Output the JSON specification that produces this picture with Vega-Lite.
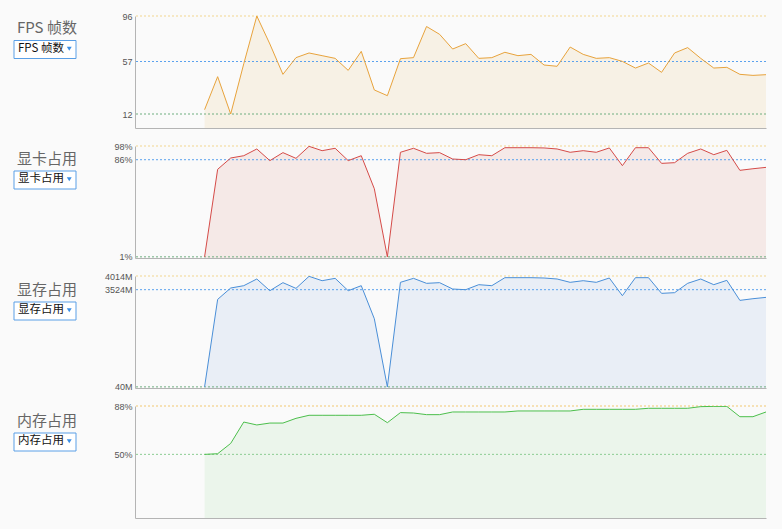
{
  "$schema": "https://vega.github.io/schema/vega-lite/v6.json",
  "background": "#fafafa",
  "padding": {"left": 13, "top": 12, "right": 16, "bottom": 11},
  "bounds": "flush",
  "spacing": 18,
  "resolve": {"scale": {"color": "independent", "stroke": "independent", "x": "independent", "y": "independent"}, "legend": {"color": "independent"}},
  "datasets": {
    "series": [
      {"i": 0, "fps": 15.7, "gpu": 1, "vram": 40, "ram": 50},
      {"i": 1, "fps": 44, "gpu": 77.6, "vram": 3176, "ram": 50.5},
      {"i": 2, "fps": 12, "gpu": 87.5, "vram": 3583, "ram": 58.6},
      {"i": 3, "fps": 55, "gpu": 89.5, "vram": 3667, "ram": 75.4},
      {"i": 4, "fps": 96, "gpu": 95.4, "vram": 3906, "ram": 73.1},
      {"i": 5, "fps": 72, "gpu": 85.2, "vram": 3487, "ram": 74.6},
      {"i": 6, "fps": 46, "gpu": 92.2, "vram": 3775, "ram": 74.6},
      {"i": 7, "fps": 60.3, "gpu": 87.2, "vram": 3571, "ram": 78.3},
      {"i": 8, "fps": 64.3, "gpu": 97.7, "vram": 4002, "ram": 80.7},
      {"i": 9, "fps": 62, "gpu": 93.9, "vram": 3846, "ram": 80.7},
      {"i": 10, "fps": 59.7, "gpu": 96, "vram": 3930, "ram": 80.7},
      {"i": 11, "fps": 49.4, "gpu": 85.2, "vram": 3487, "ram": 80.7},
      {"i": 12, "fps": 65.7, "gpu": 89.5, "vram": 3667, "ram": 80.7},
      {"i": 13, "fps": 32.6, "gpu": 60.6, "vram": 2482, "ram": 81.5},
      {"i": 14, "fps": 27.7, "gpu": 1, "vram": 40, "ram": 74.9},
      {"i": 15, "fps": 59.4, "gpu": 92.5, "vram": 3787, "ram": 82.8},
      {"i": 16, "fps": 60.3, "gpu": 96, "vram": 3930, "ram": 82.5},
      {"i": 17, "fps": 87, "gpu": 91.6, "vram": 3751, "ram": 81.2},
      {"i": 18, "fps": 80.3, "gpu": 92.2, "vram": 3775, "ram": 81.2},
      {"i": 19, "fps": 67.7, "gpu": 86.6, "vram": 3547, "ram": 83.3},
      {"i": 20, "fps": 72.3, "gpu": 86, "vram": 3523, "ram": 83.3},
      {"i": 21, "fps": 59.7, "gpu": 90.4, "vram": 3703, "ram": 83.3},
      {"i": 22, "fps": 60.3, "gpu": 89.5, "vram": 3667, "ram": 83.3},
      {"i": 23, "fps": 64.9, "gpu": 96.5, "vram": 3954, "ram": 83.3},
      {"i": 24, "fps": 62, "gpu": 96.5, "vram": 3954, "ram": 84.1},
      {"i": 25, "fps": 63.1, "gpu": 96.5, "vram": 3954, "ram": 84.1},
      {"i": 26, "fps": 54, "gpu": 96.3, "vram": 3942, "ram": 84.1},
      {"i": 27, "fps": 52.9, "gpu": 95.4, "vram": 3906, "ram": 84.1},
      {"i": 28, "fps": 69.4, "gpu": 92.5, "vram": 3787, "ram": 84.1},
      {"i": 29, "fps": 63.1, "gpu": 93.9, "vram": 3846, "ram": 85.4},
      {"i": 30, "fps": 59.7, "gpu": 92.5, "vram": 3787, "ram": 85.4},
      {"i": 31, "fps": 60.3, "gpu": 96.3, "vram": 3942, "ram": 85.4},
      {"i": 32, "fps": 57.1, "gpu": 80.8, "vram": 3308, "ram": 85.4},
      {"i": 33, "fps": 51.4, "gpu": 96.5, "vram": 3954, "ram": 85.4},
      {"i": 34, "fps": 55.7, "gpu": 96.5, "vram": 3954, "ram": 86.2},
      {"i": 35, "fps": 47.7, "gpu": 82.8, "vram": 3392, "ram": 86.2},
      {"i": 36, "fps": 64.3, "gpu": 83.4, "vram": 3416, "ram": 86.2},
      {"i": 37, "fps": 68.9, "gpu": 91.6, "vram": 3751, "ram": 86.2},
      {"i": 38, "fps": 59.7, "gpu": 95.4, "vram": 3906, "ram": 87.5},
      {"i": 39, "fps": 51.4, "gpu": 90.4, "vram": 3703, "ram": 87.7},
      {"i": 40, "fps": 52, "gpu": 94.2, "vram": 3858, "ram": 87.7},
      {"i": 41, "fps": 46, "gpu": 76.7, "vram": 3140, "ram": 79.6},
      {"i": 42, "fps": 45.1, "gpu": 78.1, "vram": 3200, "ram": 79.6},
      {"i": 43, "fps": 45.7, "gpu": 79.3, "vram": 3248, "ram": 83.3}
    ],
    "refs": [
      {"panel": "fps", "kind": "max", "v": 96},
      {"panel": "fps", "kind": "avg", "v": 57},
      {"panel": "fps", "kind": "min", "v": 12},
      {"panel": "gpu", "kind": "max", "v": 98},
      {"panel": "gpu", "kind": "avg", "v": 86},
      {"panel": "gpu", "kind": "min", "v": 1},
      {"panel": "vram", "kind": "max", "v": 4014},
      {"panel": "vram", "kind": "avg", "v": 3524},
      {"panel": "vram", "kind": "min", "v": 40},
      {"panel": "ram", "kind": "max", "v": 88},
      {"panel": "ram", "kind": "min", "v": 50}
    ]
  },
  "config": {
    "view": {"stroke": null},
    "axisX": {"title": null, "labels": false, "ticks": false, "grid": false, "domainColor": "#b4b4b4", "domainWidth": 1},
    "axisY": {
      "ticks": false, "grid": false, "domainColor": "#b4b4b4", "domainWidth": 1,
      "labelFont": "Liberation Sans", "labelFontSize": 9, "labelColor": "#555555", "labelPadding": 3,
      "labelFlush": false, "labelOverlap": false,
      "titleAngle": 0, "titleAlign": "left", "titleBaseline": "middle", "titleX": -118.5,
      "titleFont": "Noto Sans CJK SC", "titleFontSize": 15, "titleFontWeight": "normal", "titleColor": "#666666"
    },
    "legend": {
      "orient": "none", "legendX": -121.5, "title": null,
      "strokeColor": "#5a9fe6", "fillColor": "#ffffff", "padding": 3, "cornerRadius": 0,
      "symbolType": "triangle-down", "symbolSize": 24, "symbolOffset": 47, "labelOffset": -57,
      "symbolFillColor": "#3a8ee6", "symbolStrokeColor": "#3a8ee6", "symbolStrokeWidth": 0,
      "labelFont": "Noto Sans CJK SC", "labelFontSize": 11.5, "labelColor": "#111111"
    }
  },
  "vconcat": [
    {
      "width": 631, "height": 112,
      "layer": [
        {
          "data": {"name": "series"},
          "mark": {"type": "area", "color": "#f7f1e5", "clip": true},
          "encoding": {
            "x": {"field": "i", "type": "quantitative", "scale": {"domain": [-5.33, 43], "nice": false}},
            "y": {"field": "fps", "type": "quantitative", "scale": {"domain": [0, 96], "nice": false},
                  "axis": {"title": "FPS 帧数", "titleY": 11, "values": [12, 57, 96]}}
          }
        },
        {
          "data": {"name": "refs"},
          "transform": [{"filter": "datum.panel === 'fps'"}],
          "mark": {"type": "rule", "strokeDash": [2, 2], "strokeWidth": 1},
          "encoding": {
            "y": {"field": "v", "type": "quantitative"},
            "stroke": {"field": "kind", "type": "nominal", "legend": null,
                       "scale": {"domain": ["max", "avg", "min"], "range": ["#f2d68f", "#5ba2ee", "#6fae80"]}}
          }
        },
        {
          "data": {"name": "series"},
          "mark": {"type": "line", "strokeWidth": 1, "clip": true},
          "encoding": {
            "x": {"field": "i", "type": "quantitative"},
            "y": {"field": "fps", "type": "quantitative"},
            "color": {"datum": "FPS 帧数", "type": "nominal", "scale": {"range": ["#e8a33c"]},
                      "legend": {"legendY": 24}}
          }
        }
      ]
    },
    {
      "width": 631, "height": 112,
      "layer": [
        {
          "data": {"name": "series"},
          "mark": {"type": "area", "color": "#f5e9e7", "clip": true},
          "encoding": {
            "x": {"field": "i", "type": "quantitative", "scale": {"domain": [-5.33, 43], "nice": false}},
            "y": {"field": "gpu", "type": "quantitative", "scale": {"domain": [0, 98], "nice": false},
                  "axis": {"title": "显卡占用", "titleY": 12.5, "values": [1, 86, 98], "labelExpr": "datum.value + '%'"}}
          }
        },
        {
          "data": {"name": "refs"},
          "transform": [{"filter": "datum.panel === 'gpu'"}],
          "mark": {"type": "rule", "strokeDash": [2, 2], "strokeWidth": 1},
          "encoding": {
            "y": {"field": "v", "type": "quantitative"},
            "stroke": {"field": "kind", "type": "nominal", "legend": null,
                       "scale": {"domain": ["max", "avg", "min"], "range": ["#f2d68f", "#5ba2ee", "#6fae80"]}}
          }
        },
        {
          "data": {"name": "series"},
          "mark": {"type": "line", "strokeWidth": 1, "clip": true},
          "encoding": {
            "x": {"field": "i", "type": "quantitative"},
            "y": {"field": "gpu", "type": "quantitative"},
            "color": {"datum": "显卡占用", "type": "nominal", "scale": {"range": ["#d54b48"]},
                      "legend": {"legendY": 24.5}}
          }
        }
      ]
    },
    {
      "width": 631, "height": 112,
      "layer": [
        {
          "data": {"name": "series"},
          "mark": {"type": "area", "color": "#e9eef6", "clip": true},
          "encoding": {
            "x": {"field": "i", "type": "quantitative", "scale": {"domain": [-5.33, 43], "nice": false}},
            "y": {"field": "vram", "type": "quantitative", "scale": {"domain": [0, 4014], "nice": false},
                  "axis": {"title": "显存占用", "titleY": 13, "values": [40, 3524, 4014], "labelExpr": "datum.value + 'M'"}}
          }
        },
        {
          "data": {"name": "refs"},
          "transform": [{"filter": "datum.panel === 'vram'"}],
          "mark": {"type": "rule", "strokeDash": [2, 2], "strokeWidth": 1},
          "encoding": {
            "y": {"field": "v", "type": "quantitative"},
            "stroke": {"field": "kind", "type": "nominal", "legend": null,
                       "scale": {"domain": ["max", "avg", "min"], "range": ["#f2d68f", "#5ba2ee", "#6fae80"]}}
          }
        },
        {
          "data": {"name": "series"},
          "mark": {"type": "line", "strokeWidth": 1, "clip": true},
          "encoding": {
            "x": {"field": "i", "type": "quantitative"},
            "y": {"field": "vram", "type": "quantitative"},
            "color": {"datum": "显存占用", "type": "nominal", "scale": {"range": ["#4a8fd8"]},
                      "legend": {"legendY": 25.5}}
          }
        }
      ]
    },
    {
      "width": 631, "height": 112,
      "layer": [
        {
          "data": {"name": "series"},
          "mark": {"type": "area", "color": "#ebf5eb", "clip": true},
          "encoding": {
            "x": {"field": "i", "type": "quantitative", "scale": {"domain": [-5.33, 43], "nice": false}},
            "y": {"field": "ram", "type": "quantitative", "scale": {"domain": [0, 88], "nice": false},
                  "axis": {"title": "内存占用", "titleY": 14, "values": [50, 88], "labelExpr": "datum.value + '%'"}}
          }
        },
        {
          "data": {"name": "refs"},
          "transform": [{"filter": "datum.panel === 'ram'"}],
          "mark": {"type": "rule", "strokeDash": [2, 2], "strokeWidth": 1},
          "encoding": {
            "y": {"field": "v", "type": "quantitative"},
            "stroke": {"field": "kind", "type": "nominal", "legend": null,
                       "scale": {"domain": ["max", "avg", "min"], "range": ["#f2c870", "#5ba2ee", "#8ccd92"]}}
          }
        },
        {
          "data": {"name": "series"},
          "mark": {"type": "line", "strokeWidth": 1, "clip": true},
          "encoding": {
            "x": {"field": "i", "type": "quantitative"},
            "y": {"field": "ram", "type": "quantitative"},
            "color": {"datum": "内存占用", "type": "nominal", "scale": {"range": ["#4cbf4c"]},
                      "legend": {"legendY": 26.5}}
          }
        }
      ]
    }
  ]
}
